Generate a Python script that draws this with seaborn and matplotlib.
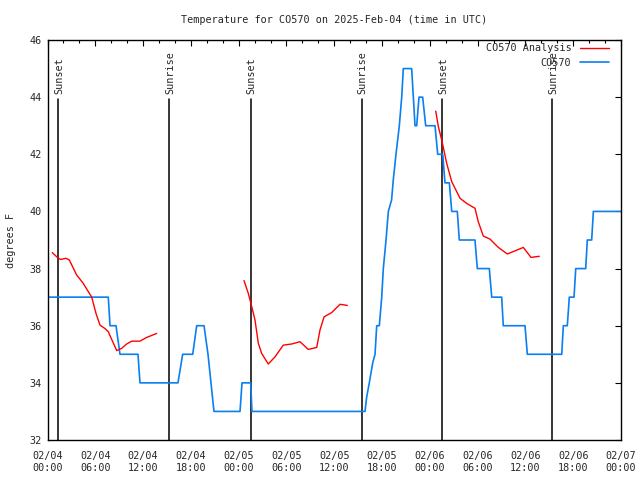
import matplotlib
matplotlib.use("Agg")
import matplotlib.pyplot as plt
import seaborn as sns
import pandas as pd

sns.set_theme(style="white")
plt.rcParams['font.family'] = ['DejaVu Sans Mono', 'DejaVu Sans']

# ---- data (hours since 2025-02-04 00:00 UTC) ----
obs_hours = [0, 7.63, 7.85, 8.6, 9.1, 11.36, 11.61, 16.38, 16.97, 18.23, 18.73, 19.65,
             20.15, 20.9, 24.17, 24.42, 25.51, 25.67, 39.86, 40.07, 40.4, 40.83, 41.12,
             41.33, 41.66, 41.96, 42.16, 42.5, 42.79, 43.2, 43.41, 43.75, 44.17, 44.47,
             44.67, 45.72, 46.14, 46.35, 46.64, 47.1, 47.48, 48.65, 48.99, 49.62, 49.9,
             50.45, 50.75, 51.45, 51.7, 53.67, 53.96, 55.47, 55.77, 57.02, 57.22, 59.95,
             60.24, 64.56, 64.76, 65.26, 65.51, 66.1, 66.32, 67.57, 67.77, 68.32, 68.53, 72]
obs_temp = [37, 37, 36, 36, 35, 35, 34, 34, 35, 35, 36, 36,
            35, 33, 33, 34, 34, 33, 33, 33.5, 34, 34.7, 35,
            36, 36, 37, 38, 39, 40, 40.4, 41.1, 42, 43, 44,
            45, 45, 43, 43, 44, 44, 43, 43, 42, 42, 41,
            41, 40, 40, 39, 39, 38, 38, 37, 37, 36, 36,
            35, 35, 36, 36, 37, 37, 38, 38, 39, 39, 40, 40]

ana1_hours = [0.60, 1.36, 1.66, 2.32, 2.74, 3.67, 3.99, 4.49, 5.55, 6.09, 6.59, 7.22,
              7.63, 8.19, 8.69, 9.32, 9.94, 10.57, 11.61, 12.45, 13.71]
ana1_temp = [38.56, 38.36, 38.32, 38.36, 38.3, 37.77, 37.66, 37.48, 37.0, 36.43, 36.02, 35.9,
             35.79, 35.44, 35.13, 35.21, 35.36, 35.46, 35.46, 35.59, 35.73]
ana2_hours = [24.67, 25.21, 25.64, 26.05, 26.47, 26.89, 27.72, 28.56, 29.6, 30.66, 31.7,
              32.74, 33.8, 34.21, 34.72, 35.68, 36.72, 37.64]
ana2_temp = [37.58, 37.13, 36.67, 36.2, 35.38, 35.03, 34.66, 34.91, 35.32, 35.36, 35.44,
             35.17, 35.24, 35.85, 36.31, 36.46, 36.75, 36.71]
ana3_hours = [48.74, 49.07, 49.49, 50.12, 50.75, 51.79, 52.63, 53.67, 54.08, 54.71, 55.56,
              56.6, 57.73, 58.69, 59.74, 60.7, 61.74]
ana3_temp = [43.51, 42.97, 42.5, 41.68, 41.04, 40.46, 40.28, 40.11, 39.64, 39.14, 39.03,
             38.74, 38.51, 38.62, 38.74, 38.39, 38.43]

sun_hours = [1.36, 15.3, 25.5, 39.45, 49.57, 63.38]
sun_labels = ["Sunset", "Sunrise", "Sunset", "Sunrise", "Sunset", "Sunrise"]

tick_hours = [0, 6, 12, 18, 24, 30, 36, 42, 48, 54, 60, 66, 72]
tick_labels = ["02/04\n00:00", "02/04\n06:00", "02/04\n12:00", "02/04\n18:00",
               "02/05\n00:00", "02/05\n06:00", "02/05\n12:00", "02/05\n18:00",
               "02/06\n00:00", "02/06\n06:00", "02/06\n12:00", "02/06\n18:00",
               "02/07\n00:00"]
y_ticks = [32, 34, 36, 38, 40, 42, 44, 46]

title = "Temperature for CO570 on 2025-Feb-04 (time in UTC)"
RED = "#ff0000"
BLUE = "#0a7ff0"
FS = 7.3

fig = plt.figure(figsize=(6.4, 4.8), dpi=100)
ax = fig.add_axes([47.5/640, 40/480, (621-47.5)/640, 400/480])

obs = pd.DataFrame({"h": obs_hours, "t": obs_temp})
segs = []
for i, (hh, tt) in enumerate([(ana1_hours, ana1_temp), (ana2_hours, ana2_temp), (ana3_hours, ana3_temp)]):
    segs.append(pd.DataFrame({"h": hh, "t": tt, "seg": i}))

for i, (hh, lab) in enumerate(zip(sun_hours, sun_labels)):
    ax.plot([hh, hh], [32, 43.93], color="black", lw=1.1, zorder=1)
    ax.text(hh + 0.1, 44.1, lab, rotation=90, ha="center", va="bottom", fontsize=FS)

for i, s in enumerate(segs):
    sns.lineplot(data=s, x="h", y="t", ax=ax, color=RED, lw=1.0, estimator=None,
                 sort=False, label="CO570 Analysis" if i == 0 else None, zorder=3)
sns.lineplot(data=obs, x="h", y="t", ax=ax, color=BLUE, lw=1.2, estimator=None,
             sort=False, label="CO570", zorder=2)

ax.set_xlim(0, 72)
ax.set_ylim(32, 46)
ax.set_xticks(tick_hours)
ax.set_xticklabels(tick_labels, fontsize=FS)
ax.set_xticks(list(range(0, 73, 2)), minor=True)
ax.set_yticks(y_ticks)
ax.set_yticklabels([str(v) for v in y_ticks], fontsize=FS)
ax.tick_params(axis="both", which="both", direction="in", top=True, right=True,
               color="black", width=0.8)
ax.tick_params(axis="both", which="major", length=4, pad=4)
ax.tick_params(axis="both", which="minor", length=2)
ax.tick_params(axis="x", which="major", pad=8)
for sp in ax.spines.values():
    sp.set_color("black")
    sp.set_linewidth(1.0)
ax.set_xlabel("")
ax.set_ylabel("degrees F", fontsize=FS, labelpad=10)
ax.set_title(title, fontsize=FS, pad=12)

leg = ax.legend(loc="upper right", bbox_to_anchor=(0.993, 1.0125), frameon=False,
                fontsize=FS, markerfirst=False,
                handlelength=2.8, handletextpad=0.9, labelspacing=0.45,
                borderaxespad=0.3, borderpad=0.5)

fig.savefig("out.png", dpi=100)
